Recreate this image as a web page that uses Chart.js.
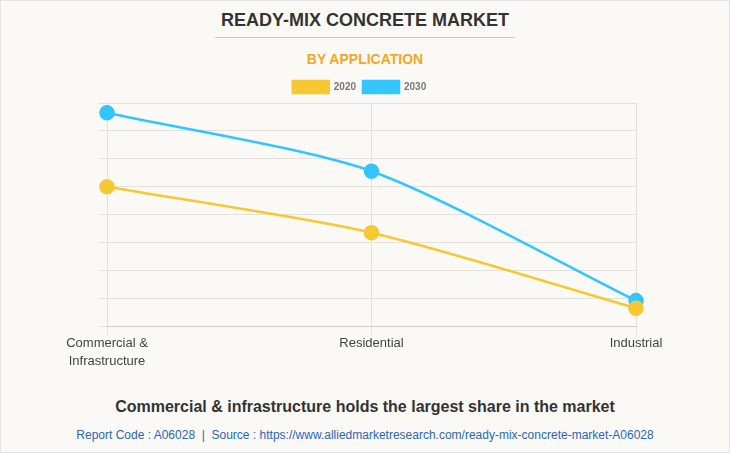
<!DOCTYPE html>
<html>
<head>
<meta charset="utf-8">
<script src="https://cdn.jsdelivr.net/npm/chart.js@4/dist/chart.umd.min.js"></script>
<style>
  html, body { margin: 0; padding: 0; }
  body { width: 730px; height: 453px; background: #faf9f5; position: relative; overflow: hidden;
         font-family: "Liberation Sans", Arial, sans-serif; }
  .frame { position: absolute; left: 0; top: 0; width: 728px; height: 451px; border: 1px solid #e4e4e4; }
  .title { position: absolute; top: 10px; width: 730px; text-align: center; font-size: 18px; font-weight: bold; color: #333; }
  .rule { position: absolute; top: 37px; left: 215px; width: 300px; height: 1px; background: #c8c8c8; }
  .sub { position: absolute; top: 51px; width: 730px; text-align: center; font-size: 14px; font-weight: bold; color: #f5a623; }
  .wrap { position: absolute; left: 0; top: 73px; width: 730px; height: 298px; }
  .foot { position: absolute; top: 398px; width: 730px; text-align: center; font-size: 16px; font-weight: bold; color: #333; }
  .src { position: absolute; top: 428px; width: 730px; text-align: center; font-size: 12px; color: #2a66b8; }
</style>
</head>
<body>
<div class="frame"></div>
<div class="title">READY-MIX CONCRETE MARKET</div>
<div class="rule"></div>
<div class="sub">BY APPLICATION</div>
<div class="wrap"><canvas id="linea"></canvas></div>
<div class="foot">Commercial &amp; infrastructure holds the largest share in the market</div>
<div class="src">Report Code : A06028&nbsp; |&nbsp; Source : https://www.alliedmarketresearch.com/ready-mix-concrete-market-A06028</div>
<script>
const categorias = [['Commercial &', 'Infrastructure'], 'Residential', 'Industrial'];
const valores2020 = [50, 33.6, 6.6];
const valores2030 = [76.5, 55.6, 9.3];
const yMin = 0, yMax = 80, yStep = 10;

const ctxLinea = document.getElementById('linea').getContext('2d');

// corre la leyenda un poco a la izquierda, como en la original
const moverLeyenda = {
  id: 'moverLeyenda',
  afterLayout(chart) {
    if (!chart.legend) return;
    chart.legend.left -= 8;
    chart.legend.right -= 8;
  }
};

new Chart(ctxLinea, {
  type: 'line',
  data: {
    labels: categorias,
    datasets: [
      {
        label: '2020',
        data: valores2020,
        borderColor: '#f6c832',
        backgroundColor: '#f6c832',
        borderWidth: 2.5,
        pointRadius: 6.5,
        pointHoverRadius: 7,
        tension: 0.25
      },
      {
        label: '2030',
        data: valores2030,
        borderColor: '#33c5ff',
        backgroundColor: '#33c5ff',
        borderWidth: 2.5,
        pointRadius: 6.5,
        pointHoverRadius: 7,
        tension: 0.25
      }
    ]
  },
  options: {
    responsive: true,
    maintainAspectRatio: false,
    animation: false,
    layout: { padding: { left: 99, right: 94, top: 1, bottom: 0 } },
    plugins: {
      legend: {
        position: 'top',
        labels: {
          boxWidth: 36,
          boxHeight: 12,
          padding: 7,
          color: '#777',
          font: { family: "'Liberation Sans', Arial, sans-serif", size: 10, weight: 'bold' }
        }
      },
      tooltip: { enabled: true }
    },
    scales: {
      x: {
        offset: false,
        grid: { color: '#e2e1dc', drawTicks: true, tickLength: 8 },
        border: { color: '#cfcfcf' },
        ticks: {
          color: '#444',
          padding: 0,
          maxRotation: 0,
          font: { family: "'Liberation Sans', Arial, sans-serif", size: 13, lineHeight: 1.4 }
        }
      },
      y: {
        min: yMin,
        max: yMax,
        grid: { color: '#e2e1dc', tickLength: 8 },
        border: { display: false },
        ticks: { display: false, stepSize: yStep }
      }
    }
  },
  plugins: [moverLeyenda]
});
</script>
</body>
</html>
